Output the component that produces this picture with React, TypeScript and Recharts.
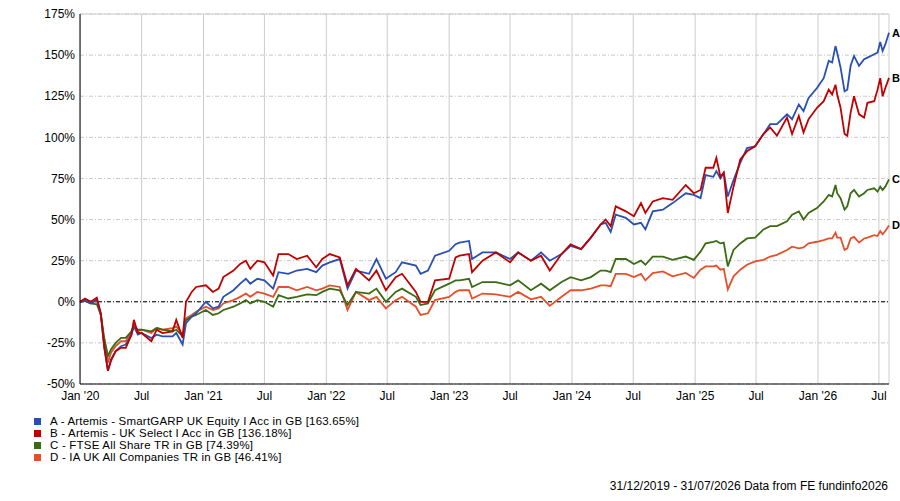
import React from 'react';
import { LineChart, Line, XAxis, YAxis, CartesianGrid, ReferenceLine } from 'recharts';

// values, cumulative % return since 31/12/2019
const dates = [
  '2019-12-31', '2020-01-15', '2020-02-01', '2020-02-19', '2020-03-02', '2020-03-12', '2020-03-23', '2020-04-01',
  '2020-04-15', '2020-05-01', '2020-05-15', '2020-06-01', '2020-06-08', '2020-06-20', '2020-07-01', '2020-07-30',
  '2020-08-15', '2020-09-01', '2020-10-01', '2020-10-12', '2020-10-31', '2020-11-10', '2020-11-27', '2020-12-10',
  '2021-01-08', '2021-01-29', '2021-02-15', '2021-03-01', '2021-03-31', '2021-04-20', '2021-05-07', '2021-05-20',
  '2021-06-10', '2021-07-01', '2021-07-27', '2021-08-12', '2021-09-10', '2021-10-05', '2021-11-05', '2021-12-02',
  '2021-12-20', '2022-01-11', '2022-02-10', '2022-03-05', '2022-03-30', '2022-05-08', '2022-05-30', '2022-06-27',
  '2022-07-26', '2022-08-14', '2022-09-24', '2022-10-08', '2022-10-30', '2022-11-20', '2023-01-01', '2023-01-20',
  '2023-02-01', '2023-03-01', '2023-03-10', '2023-04-10', '2023-05-20', '2023-07-01', '2023-07-25', '2023-09-01',
  '2023-10-01', '2023-10-27', '2023-12-01', '2023-12-28', '2024-01-28', '2024-02-26', '2024-03-26', '2024-04-10',
  '2024-04-25', '2024-05-10', '2024-06-09', '2024-07-03', '2024-07-24', '2024-08-06', '2024-08-28', '2024-09-27',
  '2024-10-26', '2024-12-04', '2024-12-28', '2025-01-17', '2025-02-01', '2025-02-24', '2025-03-05', '2025-03-17',
  '2025-03-27', '2025-04-08', '2025-04-25', '2025-05-15', '2025-06-04', '2025-06-28', '2025-07-23', '2025-08-12',
  '2025-09-01', '2025-10-01', '2025-10-16', '2025-11-05', '2025-11-19', '2025-12-04', '2025-12-29', '2026-01-18',
  '2026-02-02', '2026-02-12', '2026-02-22', '2026-02-27', '2026-03-09', '2026-03-21', '2026-03-29', '2026-04-08',
  '2026-04-18', '2026-05-03', '2026-05-18', '2026-05-28', '2026-06-17', '2026-06-27', '2026-07-05', '2026-07-12',
  '2026-07-20', '2026-07-31',
];

// A - Artemis SmartGARP UK Equity
const seriesA = [
  0, 0.5, -1, 1, -8, -28, -42, -35, -30, -27, -26, -20, -15, -20, -19, -22,
  -20, -21, -21, -19, -26, -13, -9, -7, 0, -4, -3, 3, 7, 11, 14, 11,
  14, 13, 8, 18, 17, 19, 20, 18, 22, 24, 26, 8, 19, 17, 26, 14,
  18, 24, 22, 17, 19, 28, 31, 35, 36, 37, 26, 30, 30, 26, 30, 25,
  30, 25, 29, 34, 32, 39, 47, 48, 42.5, 53, 51, 47, 48, 44, 55, 56,
  60, 66, 65, 63, 77, 76, 79.5, 75, 78.5, 64, 74, 84.5, 93.5, 94.5, 102, 108,
  108, 114, 111, 120, 116, 124, 130, 136, 146.5, 145.5, 155.5, 151.5, 142.5, 128, 129, 143.5,
  149.5, 143.5, 147.5, 148.5, 150.5, 151.5, 158, 152.5, 156.5, 163.65,
];

// B - Artemis UK Select
const seriesB = [
  0, 2, 0, 2.5, -7, -27, -42, -36, -30, -28, -28, -20, -11, -19, -19, -24,
  -17, -19, -18, -11, -22, 0, 6, 9, 10, 6, 8, 15, 19, 23, 25, 20,
  25, 24, 16, 29, 29, 26, 28, 21, 26, 29, 27, 10, 20, 13, 19, 7,
  15, 17, 6, 0, 0, 13, 14, 27, 28, 29, 18, 25, 30, 24, 30, 25,
  28, 19, 29, 35, 32, 39, 47, 50, 46, 58, 55, 52, 60, 54, 61, 63,
  62, 71, 66, 68, 81.5, 81.5, 87.5, 76, 78.5, 54, 70, 86.5, 91.5, 94.5, 102, 106,
  101, 112, 102, 113, 103, 111, 118, 122, 129, 126, 132, 126, 118, 102, 101, 115,
  125, 114, 112, 121, 122, 129, 136, 125, 130, 136.18,
];

// C - FTSE All Share TR
const seriesC = [
  0, 0.5, -1, -1.5, -8, -22, -33, -29, -25, -22, -22, -18, -15, -17, -17, -18,
  -16, -17, -18, -17, -21, -11, -9, -8, -5, -8, -7, -5, -3, -1, 1, -1,
  1, 0, -3, 4, 2, 3, 4.5, 4, 6, 8, 7, -2, 6, 5, 8, 0,
  6, 8, 3, -2, -1, 7, 11, 13, 13, 14, 9, 12, 12, 10, 13, 7,
  11, 7, 12, 15, 13, 15, 19, 19, 18, 26, 26, 23, 25, 22.5, 27.5, 27.5,
  25.5, 27.5, 25.5, 30.5, 35.5, 36.5, 37, 35.5, 36, 21.5, 31.5, 35.5, 38.5, 39, 44, 46,
  46, 49, 53, 55, 50, 54, 57, 61, 65, 64, 71, 66, 63, 56, 58, 66,
  68, 64, 66, 68, 69, 67, 70, 68, 70, 74.39,
];

// D - IA UK All Companies TR
const seriesD = [
  0, 1, 0, 1.5, -8, -25, -37, -31, -27, -24, -24, -18, -14, -18, -17, -19,
  -16, -17, -16, -15, -20, -10, -8, -6, -3, -5, -4, -1, 1, 3, 5, 3,
  6, 5, 3, 9, 9, 7, 9, 7, 8, 10, 9, -5, 6, 1, 3, -4,
  1, 3, -3, -8, -7, 1, 3, 6, 7, 7, 2, 5, 4.5, 3, 6, 1.5,
  3, -2.5, 3, 7, 7, 8, 10, 10, 9.5, 17, 17, 15, 17, 13, 17.5, 18.5,
  15.5, 17.5, 14.5, 19.5, 21.5, 21.5, 22, 19.5, 20, 7.5, 15.5, 19.5, 22.5, 24.5, 25.5, 27.5,
  28.5, 31.5, 33.5, 32.5, 33, 35.5, 36.5, 37.5, 38.5, 38.5, 42, 39, 39, 31.5, 32.5, 38.5,
  39.5, 36, 38.5, 39, 40.5, 40, 43, 41, 43, 46.41,
];

const tickDates = [
  '2020-01-01', '2020-07-01', '2021-01-01', '2021-07-01', '2022-01-01', '2022-07-01', '2023-01-01',
  '2023-07-01', '2024-01-01', '2024-07-01', '2025-01-01', '2025-07-01', '2026-01-01', '2026-07-01',
];
const tickLabels = [
  "Jan '20", 'Jul', "Jan '21", 'Jul', "Jan '22", 'Jul', "Jan '23",
  'Jul', "Jan '24", 'Jul', "Jan '25", 'Jul', "Jan '26", 'Jul',
];
const yTicks = [-50, -25, 0, 25, 50, 75, 100, 125, 150, 175];

const legendNames = [
  'A - Artemis - SmartGARP UK Equity I Acc in GB [163.65%]',
  'B - Artemis - UK Select I Acc in GB [136.18%]',
  'C - FTSE All Share TR in GB [74.39%]',
  'D - IA UK All Companies TR in GB [46.41%]',
];

const colors = { A: '#2a4fb4', B: '#c00000', C: '#3a6b14', D: '#e4502a' };
const legendColors = [colors.A, colors.B, colors.C, colors.D];

const data = dates.map((d, i) => ({
  t: Date.parse(d),
  A: seriesA[i],
  B: seriesB[i],
  C: seriesC[i],
  D: seriesD[i],
}));

const tickTimes = tickDates.map((d) => Date.parse(d));
const startT = data[0].t;
const endT = data[data.length - 1].t;
const last = data.length - 1;
const font = '"Liberation Sans", Arial, sans-serif';

const endLabel = (name: string) => (props: any) => {
  if (props.index !== last) return <g />;
  return (
    <text x={props.x + 3} y={props.y} dy={4} fontSize={11} fontWeight="bold" fill="#000" fontFamily={font}>
      {name}
    </text>
  );
};

const formatX = (v: number) => {
  const i = tickTimes.indexOf(v);
  return i >= 0 ? tickLabels[i] : '';
};

export default function App() {
  return (
    <div style={{ position: 'absolute', left: 0, top: 0, width: 900, height: 501, background: '#fff', fontFamily: font }}>
      <LineChart width={900} height={501} data={data} margin={{ top: 14, right: 11, left: 20, bottom: 87 }}>
        <CartesianGrid horizontal={false} stroke="#cccccc" verticalValues={tickTimes} />
        <CartesianGrid vertical={false} stroke="#c8c8c8" strokeDasharray="4 2 1 2" />
        <XAxis
          dataKey="t"
          type="number"
          domain={[startT, endT]}
          ticks={tickTimes}
          tickFormatter={formatX}
          tick={{ fill: '#000', fontSize: 12, fontFamily: font }}
          tickLine={false}
          tickSize={0}
          tickMargin={7}
          axisLine={{ stroke: '#000' }}
          height={30}
          interval={0}
        />
        <YAxis
          domain={[-50, 175]}
          ticks={yTicks}
          tickFormatter={(v: number) => `${v}%`}
          tick={{ fill: '#000', fontSize: 12, fontFamily: font }}
          tickLine={false}
          tickSize={0}
          tickMargin={5}
          axisLine={{ stroke: '#000' }}
          width={60}
          interval={0}
        />
        <ReferenceLine y={175} stroke="#cccccc" />
        <ReferenceLine x={endT} stroke="#cccccc" />
        <ReferenceLine y={0} stroke="#000" strokeDasharray="4 2 1 2" />
        <Line type="linear" dataKey="D" stroke={colors.D} strokeWidth={1.8} dot={false} isAnimationActive={false} label={endLabel('D')} />
        <Line type="linear" dataKey="C" stroke={colors.C} strokeWidth={1.8} dot={false} isAnimationActive={false} label={endLabel('C')} />
        <Line type="linear" dataKey="A" stroke={colors.A} strokeWidth={1.8} dot={false} isAnimationActive={false} label={endLabel('A')} />
        <Line type="linear" dataKey="B" stroke={colors.B} strokeWidth={1.8} dot={false} isAnimationActive={false} label={endLabel('B')} />
      </LineChart>
      {legendNames.map((name, i) => (
        <div key={name} style={{ position: 'absolute', left: 34, top: 415 + i * 12, height: 12, lineHeight: '12px', display: 'flex', alignItems: 'center', fontSize: 11.5, letterSpacing: 0.2, color: '#000' }}>
          <span style={{ display: 'inline-block', width: 7, height: 7, background: legendColors[i], marginRight: 9 }} />
          <span style={{ whiteSpace: 'nowrap', lineHeight: '12px' }}>{name}</span>
        </div>
      ))}
      <div style={{ position: 'absolute', right: 12, top: 479, fontSize: 12, lineHeight: '14px', color: '#000', whiteSpace: 'nowrap' }}>
        31/12/2019 - 31/07/2026 Data from FE fundinfo2026
      </div>
    </div>
  );
}
